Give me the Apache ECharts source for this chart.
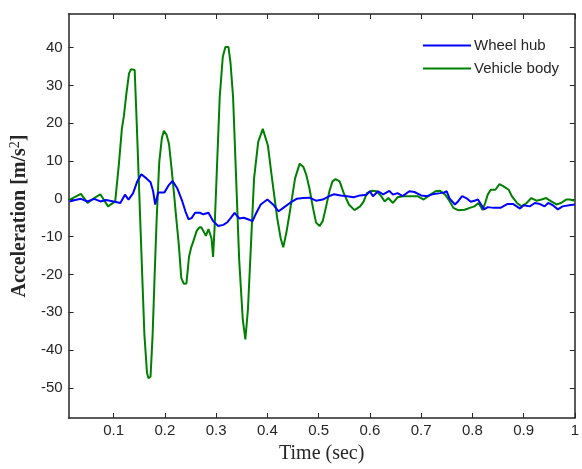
<!DOCTYPE html>
<html>
<head>
<meta charset="utf-8">
<script src="https://cdn.jsdelivr.net/npm/echarts@6/dist/echarts.min.js"></script>
<style>
  html, body { margin: 0; padding: 0; background: #fff; overflow: hidden; }
  #chart { position: fixed; left: 0; top: 0; width: 582px; height: 469px; }
</style>
</head>
<body>
<div id="chart"></div>
<script>
// Wheel hub acceleration, sampled in time (s) -> m/s^2
const hubTime = [0.014, 0.025, 0.036, 0.049, 0.062, 0.074, 0.085, 0.100, 0.113, 0.122, 0.129, 0.138, 0.146, 0.154, 0.164, 0.172, 0.177, 0.181, 0.187, 0.199, 0.208, 0.215, 0.224, 0.234, 0.240, 0.246, 0.252, 0.259, 0.268, 0.275, 0.285, 0.294, 0.304, 0.314, 0.322, 0.329, 0.336, 0.345, 0.354, 0.362, 0.371, 0.377, 0.387, 0.400, 0.411, 0.422, 0.431, 0.444, 0.457, 0.470, 0.482, 0.495, 0.508, 0.521, 0.530, 0.543, 0.556, 0.568, 0.581, 0.594, 0.600, 0.606, 0.616, 0.626, 0.638, 0.645, 0.654, 0.664, 0.677, 0.687, 0.700, 0.712, 0.722, 0.737, 0.745, 0.750, 0.755, 0.766, 0.772, 0.780, 0.788, 0.797, 0.804, 0.811, 0.817, 0.823, 0.830, 0.842, 0.855, 0.868, 0.880, 0.893, 0.900, 0.912, 0.922, 0.932, 0.941, 0.948, 0.957, 0.967, 0.976, 0.989, 1.000];
const hubAccel = [-0.7, -0.3, 0.0, -0.7, 0.0, -0.7, -0.3, -0.7, -1.1, 1.1, -0.2, 1.5, 4.6, 6.5, 5.4, 4.4, 2.0, -1.5, 1.7, 1.7, 3.7, 4.7, 2.8, -0.7, -3.3, -5.4, -5.1, -3.7, -3.7, -4.1, -3.7, -5.9, -7.2, -6.9, -6.2, -5.0, -3.7, -5.2, -5.0, -5.4, -5.9, -4.1, -1.5, -0.2, -1.5, -3.3, -2.4, -1.1, 0.0, 0.2, 0.3, -0.5, -0.2, 0.7, 1.2, 0.9, 0.7, 0.4, 0.9, 1.1, 2.0, 0.7, 2.0, 1.2, 2.1, 1.1, 1.5, 0.7, 2.0, 1.8, 0.9, 0.7, 1.2, 1.5, 1.7, 2.0, 0.2, -1.5, -0.7, 0.7, 0.2, -0.8, -0.5, -0.2, -1.5, -2.8, -2.2, -2.4, -2.4, -1.4, -1.4, -2.6, -1.7, -2.0, -1.1, -1.4, -2.0, -1.1, -1.7, -2.8, -2.0, -1.7, -1.5];

// Vehicle body acceleration, sampled in time (s) -> m/s^2
const bodyTime = [0.014, 0.025, 0.036, 0.049, 0.062, 0.074, 0.089, 0.103, 0.106, 0.110, 0.116, 0.120, 0.125, 0.130, 0.134, 0.141, 0.145, 0.149, 0.153, 0.157, 0.160, 0.165, 0.168, 0.172, 0.176, 0.180, 0.184, 0.189, 0.194, 0.198, 0.203, 0.208, 0.213, 0.218, 0.222, 0.227, 0.232, 0.237, 0.242, 0.247, 0.251, 0.256, 0.262, 0.267, 0.271, 0.275, 0.280, 0.285, 0.291, 0.294, 0.297, 0.302, 0.307, 0.313, 0.318, 0.324, 0.328, 0.333, 0.339, 0.345, 0.352, 0.357, 0.362, 0.368, 0.374, 0.382, 0.391, 0.401, 0.409, 0.419, 0.426, 0.431, 0.437, 0.443, 0.454, 0.463, 0.470, 0.476, 0.482, 0.489, 0.495, 0.502, 0.508, 0.514, 0.521, 0.527, 0.533, 0.541, 0.549, 0.559, 0.570, 0.581, 0.588, 0.594, 0.603, 0.613, 0.622, 0.629, 0.636, 0.645, 0.654, 0.664, 0.680, 0.693, 0.705, 0.718, 0.728, 0.737, 0.747, 0.756, 0.763, 0.772, 0.785, 0.795, 0.804, 0.812, 0.816, 0.820, 0.825, 0.830, 0.836, 0.845, 0.853, 0.861, 0.871, 0.877, 0.887, 0.896, 0.906, 0.915, 0.925, 0.935, 0.944, 0.954, 0.964, 0.973, 0.983, 0.990, 1.000];
const bodyAccel = [-0.2, 0.5, 1.3, -1.1, 0.2, 1.2, -2.0, -0.7, -0.3, 8.9, 18.5, 22.0, 28.0, 33.2, 34.3, 34.1, 20.0, 5.0, -10.0, -25.0, -36.0, -46.0, -47.5, -47.0, -36.0, -20.0, -5.0, 9.8, 16.0, 18.0, 17.0, 14.5, 8.0, 1.0, -5.0, -12.0, -21.0, -22.5, -22.4, -15.4, -13.0, -11.0, -8.5, -7.6, -7.5, -8.5, -9.8, -8.0, -10.5, -15.4, -7.6, 9.8, 27.0, 37.6, 40.2, 40.2, 36.0, 27.0, 5.4, -16.3, -32.0, -37.2, -29.3, -12.0, 5.4, 15.0, 18.5, 14.1, 5.4, -5.0, -10.5, -12.8, -9.0, -4.1, 5.4, 9.3, 8.5, 6.3, 2.8, -2.4, -6.3, -7.2, -5.9, -2.4, 2.0, 4.6, 5.2, 4.6, 1.5, -1.5, -3.0, -2.0, -0.7, 1.5, 2.1, 2.0, 0.7, -0.7, 0.2, -1.1, 0.4, 0.7, 0.7, 0.7, -0.2, 1.1, 2.0, 2.1, 1.1, -0.7, -2.4, -3.0, -2.9, -2.4, -2.0, -1.1, -2.0, -3.0, -1.1, 1.1, 2.4, 2.4, 3.9, 3.3, 2.4, 0.7, -1.1, -2.0, -1.1, 0.2, -0.5, -0.2, 0.2, -0.7, -1.5, -1.1, -0.2, -0.2, -0.5];

// Axis tick positions
const timeTicks = [0.1, 0.2, 0.3, 0.4, 0.5, 0.6, 0.7, 0.8, 0.9, 1.0];
const accelTicks = [-50, -40, -30, -20, -10, 0, 10, 20, 30, 40];

const seriesNames = ['Wheel hub', 'Vehicle body'];

const pairs = (xs, ys) => xs.map((x, i) => [x, ys[i]]);

const axisColor = '#262626';
const textColor = '#262626';
const sansFont = '"Liberation Sans", Arial, sans-serif';
const serifFont = '"Liberation Serif", "Times New Roman", serif';

const tickStyle = { inside: true, length: 5, lineStyle: { color: axisColor, width: 1 } };
const frameLine = { show: true, onZero: false, lineStyle: { color: axisColor, width: 1.5 } };

const xRange = { min: 0.012, max: 1 };
const yRange = { min: -58, max: 48.9 };

const chart = echarts.init(document.getElementById('chart'), null, { renderer: 'canvas' });

chart.setOption({
  animation: false,
  backgroundColor: '#ffffff',
  grid: { left: 66, right: 2, top: 14, bottom: 46, containLabel: false },
  legend: {
    data: seriesNames,
    orient: 'vertical',
    left: 423,
    top: 38,
    padding: 0,
    icon: 'rect',
    itemWidth: 48,
    itemHeight: 2,
    itemGap: 8,
    textStyle: { fontFamily: sansFont, fontSize: 15, color: textColor, padding: [0, 0, 0, -2] }
  },
  xAxis: [
    {
      type: 'value',
      position: 'bottom',
      ...xRange,
      name: 'Time (sec)',
      nameLocation: 'middle',
      nameGap: 26,
      nameTextStyle: { fontFamily: serifFont, fontSize: 20, color: textColor },
      axisLine: frameLine,
      axisTick: { ...tickStyle, customValues: timeTicks },
      axisLabel: {
        customValues: timeTicks,
        margin: 5,
        fontFamily: sansFont,
        fontSize: 15,
        color: textColor,
        formatter: v => String(+v.toFixed(1))
      },
      splitLine: { show: false }
    },
    {
      type: 'value',
      position: 'top',
      ...xRange,
      axisLine: frameLine,
      axisTick: { ...tickStyle, customValues: timeTicks },
      axisLabel: { show: false },
      splitLine: { show: false }
    }
  ],
  yAxis: [
    {
      type: 'value',
      position: 'left',
      ...yRange,
      name: 'Acceleration [m/s{sup|2}]',
      nameLocation: 'middle',
      nameGap: 29,
      nameTextStyle: {
        fontFamily: serifFont,
        fontSize: 20,
        fontWeight: 'bold',
        color: textColor,
        rich: {
          sup: {
            fontFamily: serifFont,
            fontSize: 14,
            fontWeight: 'normal',
            color: textColor,
            verticalAlign: 'top',
            padding: [0, 0, 10, 0]
          }
        }
      },
      axisLine: frameLine,
      axisTick: { ...tickStyle, customValues: accelTicks },
      axisLabel: {
        customValues: accelTicks,
        margin: 6,
        fontFamily: sansFont,
        fontSize: 15,
        color: textColor
      },
      splitLine: { show: false }
    },
    {
      type: 'value',
      position: 'right',
      ...yRange,
      axisLine: frameLine,
      axisTick: { ...tickStyle, customValues: accelTicks },
      axisLabel: { show: false },
      splitLine: { show: false }
    }
  ],
  series: [
    {
      name: seriesNames[0],
      type: 'line',
      data: pairs(hubTime, hubAccel),
      symbol: 'none',
      color: '#0000ff',
      lineStyle: { color: '#0000ff', width: 2 },
      z: 3
    },
    {
      name: seriesNames[1],
      type: 'line',
      data: pairs(bodyTime, bodyAccel),
      symbol: 'none',
      color: '#008000',
      lineStyle: { color: '#008000', width: 2 },
      z: 2
    }
  ]
});
</script>
</body>
</html>
